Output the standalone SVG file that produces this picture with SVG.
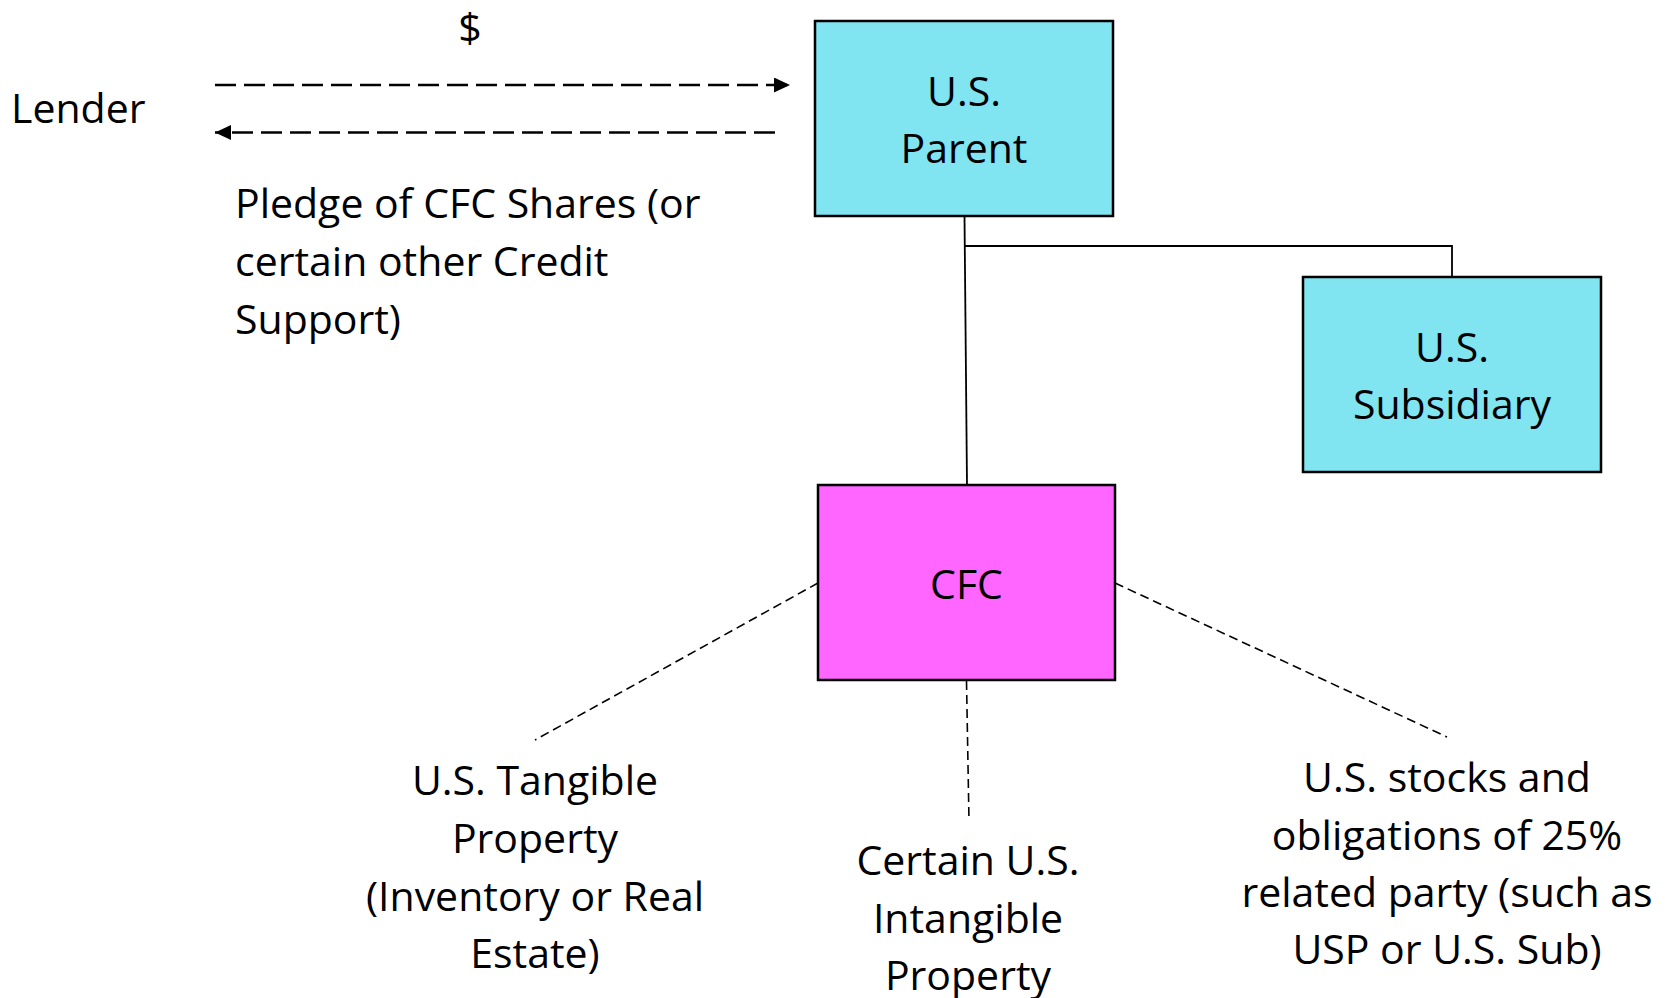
<svg xmlns="http://www.w3.org/2000/svg" width="1668" height="998" viewBox="0 0 1668 998">
  <style>
    text { font-family: "Open Sans", "Noto Sans", "Liberation Sans", sans-serif; font-size: 41px; fill: #000; }
    .c { text-anchor: middle; }
    .box-us { fill: #80E4F1; stroke: #000; stroke-width: 2.5; }
    .box-cfc { fill: #FF66FF; stroke: #000; stroke-width: 2.5; }
    .solid { stroke: #000; stroke-width: 1.8; fill: none; }
    .flow { stroke: #000; stroke-width: 2.3; stroke-dasharray: 21 8; fill: none; }
    .dot { stroke: #000; stroke-width: 1.6; stroke-dasharray: 9 5; fill: none; }
  </style>
  <defs>
    <marker id="arrow" markerUnits="userSpaceOnUse" markerWidth="17" markerHeight="16" refX="16" refY="7.5" orient="auto">
      <path d="M0,0 L16,7.5 L0,15 z" fill="#000"/>
    </marker>
  </defs>
  <rect width="1668" height="998" fill="#fff"/>

  <g id="connectors">
    <line class="flow" x1="215" y1="85" x2="790" y2="85" marker-end="url(#arrow)"/>
    <line class="flow" x1="775" y1="132.5" x2="215" y2="132.5" marker-end="url(#arrow)"/>
    <line class="solid" x1="964.5" y1="216" x2="967" y2="485"/>
    <polyline class="solid" points="964.5,246 1452,246 1452,277"/>
    <line class="dot" x1="818" y1="583" x2="535" y2="740"/>
    <line class="dot" x1="966.5" y1="681" x2="969" y2="821"/>
    <line class="dot" x1="1115" y1="583" x2="1447" y2="737"/>
  </g>

  <g id="dollar-label"><text class="c" x="470" y="42">$</text></g>
  <g id="lender"><text x="11" y="123">Lender</text></g>
  <g id="pledge-label">
    <text x="235" y="218">Pledge of CFC Shares (or</text>
    <text x="235" y="276">certain other Credit</text>
    <text x="235" y="334">Support)</text>
  </g>

  <g id="us-parent">
    <rect class="box-us" x="815" y="21" width="298" height="195"/>
    <text class="c" x="964" y="106">U.S.</text>
    <text class="c" x="964" y="163">Parent</text>
  </g>

  <g id="us-subsidiary">
    <rect class="box-us" x="1303" y="277" width="298" height="195"/>
    <text class="c" x="1452" y="362">U.S.</text>
    <text class="c" x="1452" y="419">Subsidiary</text>
  </g>

  <g id="cfc">
    <rect class="box-cfc" x="818" y="485" width="297" height="195"/>
    <text class="c" x="966.5" y="599">CFC</text>
  </g>

  <g id="tangible">
    <text class="c" x="535" y="795">U.S. Tangible</text>
    <text class="c" x="535" y="853">Property</text>
    <text class="c" x="535" y="911">(Inventory or Real</text>
    <text class="c" x="535" y="968">Estate)</text>
  </g>

  <g id="intangible">
    <text class="c" x="968" y="875">Certain U.S.</text>
    <text class="c" x="968" y="933">Intangible</text>
    <text class="c" x="968" y="990">Property</text>
  </g>

  <g id="stocks">
    <text class="c" x="1447" y="792">U.S. stocks and</text>
    <text class="c" x="1447" y="850">obligations of 25%</text>
    <text class="c" x="1447" y="907">related party (such as</text>
    <text class="c" x="1447" y="964">USP or U.S. Sub)</text>
  </g>
</svg>
